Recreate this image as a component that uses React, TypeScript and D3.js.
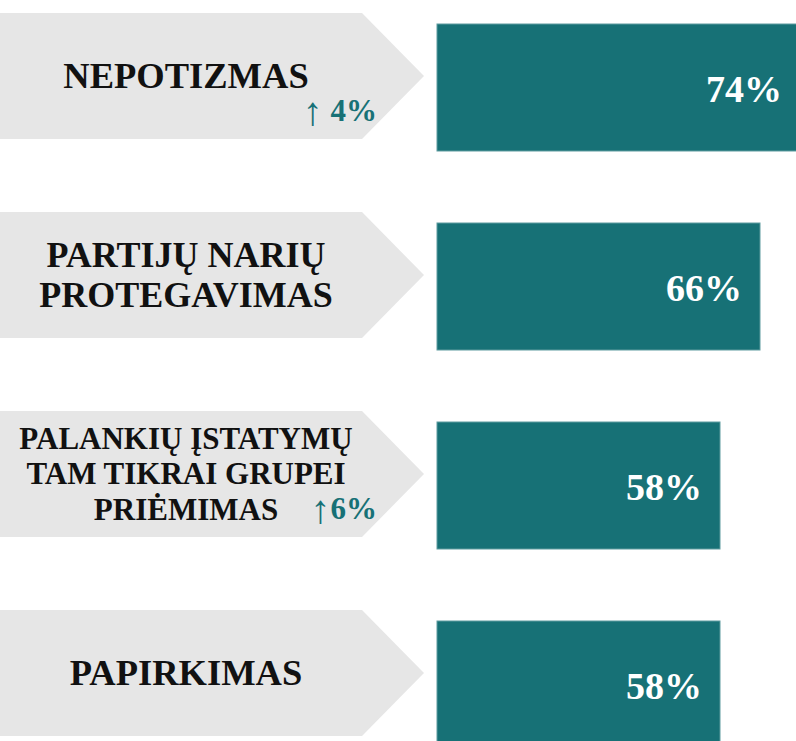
import React from "react";
import * as d3 from "d3";

const categories: string[][] = [
  ["NEPOTIZMAS"],
  ["PARTIJŲ NARIŲ", "PROTEGAVIMAS"],
  ["PALANKIŲ ĮSTATYMŲ", "TAM TIKRAI GRUPEI", "PRIĖMIMAS"],
  ["PAPIRKIMAS"],
];
const values: number[] = [74, 66, 58, 58];
const changeArrows: string[] = ["↑", "", "↑", ""];
const changeLabels: string[] = [" 4%", "", "6%", ""];

const W = 796;
const H = 741;
const TEAL = "#177176";
const GRAY = "#e6e6e6";
const FONT = "'Liberation Serif', 'Times New Roman', serif";

export default function App() {
  const y = d3
    .scaleBand<number>()
    .domain(d3.range(categories.length))
    .range([13, 13 + 199 * categories.length])
    .paddingInner(0)
    .paddingOuter(0);
  const x = d3.scaleLinear().domain([0, 100]).range([430, 930]);

  const arrowH = 126;
  const barOffset = 11;
  const barH = 127;
  const rectRight = 362;
  const tipX = 424;
  const barX0 = 437;

  return (
    <div style={{ position: "absolute", left: 0, top: 0 }}>
      <svg width={W} height={H} style={{ display: "block" }}>
        <rect width={W} height={H} fill="#fff" />
        {categories.map((lines, i) => {
          const top = y(i)!;
          const mid = top + arrowH / 2;
          const path = d3.path();
          path.moveTo(0, top);
          path.lineTo(rectRight, top);
          path.lineTo(tipX, mid);
          path.lineTo(rectRight, top + arrowH);
          path.lineTo(0, top + arrowH);
          path.closePath();
          const fs = lines.length === 1 ? 36.5 : lines.length === 2 ? 36 : 31;
          const lh = lines.length === 2 ? 40 : 35.5;
          const cap = fs * 0.66;
          const firstBase = mid - ((lines.length - 1) * lh) / 2 + cap / 2;
          const bTop = top + barOffset;
          const bMid = bTop + barH / 2;
          return (
            <g key={i}>
              <path d={path.toString()} fill={GRAY} />
              {lines.map((ln, j) => (
                <text
                  key={j}
                  x={186}
                  y={firstBase + j * lh}
                  textAnchor="middle"
                  fontFamily={FONT}
                  fontWeight="bold"
                  fontSize={fs}
                  fill="#111"
                >
                  {ln}
                </text>
              ))}
              {changeLabels[i] && (
                <text
                  x={377}
                  y={mid + 45}
                  textAnchor="end"
                  fontFamily={FONT}
                  fontWeight="bold"
                  fontSize={31}
                  fill={TEAL}
                >
                  <tspan fontWeight="normal" fontSize={40} dy={4}>
                    {changeArrows[i]}
                  </tspan>
                  <tspan dy={-4}>{changeLabels[i]}</tspan>
                </text>
              )}
              <rect
                x={barX0}
                y={bTop}
                width={x(values[i]) - barX0}
                height={barH}
                fill={TEAL}
                stroke="#5f9c9f"
                strokeWidth={1}
              />
              <text
                x={x(values[i]) - 18}
                y={bMid + 14}
                textAnchor="end"
                fontFamily={FONT}
                fontWeight="bold"
                fontSize={38}
                fill="#fff"
              >
                {values[i]}%
              </text>
            </g>
          );
        })}
      </svg>
    </div>
  );
}
